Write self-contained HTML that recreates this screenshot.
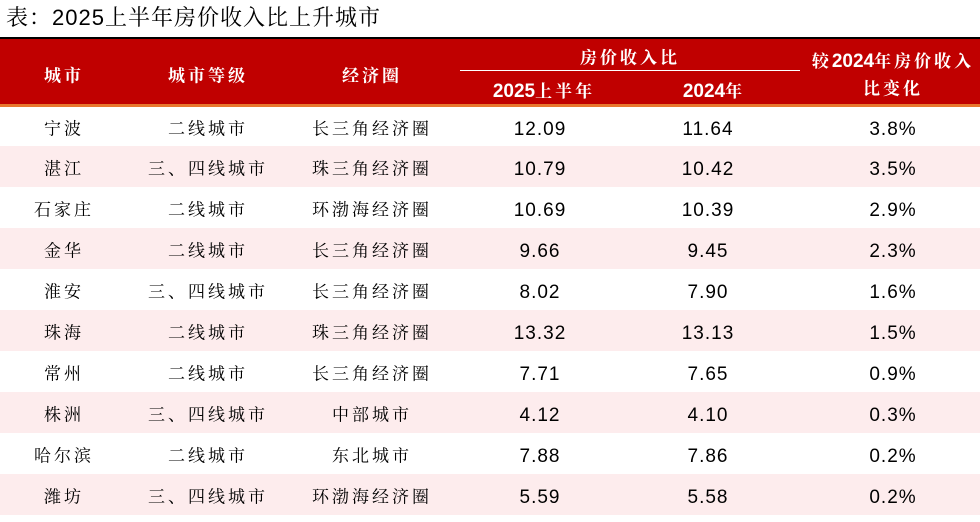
<!DOCTYPE html>
<html><head><meta charset="utf-8"><style>
body{margin:0;width:980px;height:522px;background:#fff;font-family:"Liberation Sans","Noto Serif CJK SC","Noto Sans CJK SC",sans-serif;position:relative;overflow:hidden}
.t{position:absolute;left:6px;top:1px;font-size:22px;color:#000;letter-spacing:1px}
.hl{position:absolute;left:0;top:37px;width:980px;height:2px;background:#000}
.hd{position:absolute;left:0;top:39px;width:980px;height:65px;background:#c00000}
.ol{position:absolute;left:0;top:104px;width:980px;height:3px;background:#e8772e}
.w{position:absolute;color:#fff;font-weight:bold;font-size:17px;letter-spacing:3px;transform:translate(-50%,-50%);white-space:nowrap}
.w b{font-size:19px;letter-spacing:0}
.sub{position:absolute;left:460px;top:70px;width:340px;height:1px;background:#fff}
.r{position:absolute;left:0;width:980px;height:41px}
.c{position:absolute;top:50%;transform:translate(-50%,-50%);font-size:17px;letter-spacing:3px;white-space:nowrap;color:#000}
.n{font-size:19px;letter-spacing:1px;margin-top:3px}
</style></head><body>
<div class="t">表：2025上半年房价收入比上升城市</div>
<div class="hl"></div><div class="hd"></div><div class="ol"></div>
<div class="w" style="left:64px;top:74px">城市</div>
<div class="w" style="left:208px;top:74px">城市等级</div>
<div class="w" style="left:372px;top:74px">经济圈</div>
<div class="w" style="left:630px;top:56px">房价收入比</div>
<div class="sub"></div>
<div class="w" style="left:544px;top:90px"><b>2025</b>上半年</div>
<div class="w" style="left:714px;top:90px"><b>2024</b>年</div>
<div class="w" style="left:893px;top:60px">较<b>2024</b>年房价收入</div>
<div class="w" style="left:893px;top:87px">比变化</div>
<div class="r" style="top:106px"><span class="c" style="left:64px">宁波</span><span class="c" style="left:208px">二线城市</span><span class="c" style="left:372px">长三角经济圈</span><span class="c n" style="left:540px">12.09</span><span class="c n" style="left:708px">11.64</span><span class="c n" style="left:893px">3.8%</span></div>
<div class="r" style="top:146px;background:#fdeced"><span class="c" style="left:64px">湛江</span><span class="c" style="left:208px">三、四线城市</span><span class="c" style="left:372px">珠三角经济圈</span><span class="c n" style="left:540px">10.79</span><span class="c n" style="left:708px">10.42</span><span class="c n" style="left:893px">3.5%</span></div>
<div class="r" style="top:187px"><span class="c" style="left:64px">石家庄</span><span class="c" style="left:208px">二线城市</span><span class="c" style="left:372px">环渤海经济圈</span><span class="c n" style="left:540px">10.69</span><span class="c n" style="left:708px">10.39</span><span class="c n" style="left:893px">2.9%</span></div>
<div class="r" style="top:228px;background:#fdeced"><span class="c" style="left:64px">金华</span><span class="c" style="left:208px">二线城市</span><span class="c" style="left:372px">长三角经济圈</span><span class="c n" style="left:540px">9.66</span><span class="c n" style="left:708px">9.45</span><span class="c n" style="left:893px">2.3%</span></div>
<div class="r" style="top:269px"><span class="c" style="left:64px">淮安</span><span class="c" style="left:208px">三、四线城市</span><span class="c" style="left:372px">长三角经济圈</span><span class="c n" style="left:540px">8.02</span><span class="c n" style="left:708px">7.90</span><span class="c n" style="left:893px">1.6%</span></div>
<div class="r" style="top:310px;background:#fdeced"><span class="c" style="left:64px">珠海</span><span class="c" style="left:208px">二线城市</span><span class="c" style="left:372px">珠三角经济圈</span><span class="c n" style="left:540px">13.32</span><span class="c n" style="left:708px">13.13</span><span class="c n" style="left:893px">1.5%</span></div>
<div class="r" style="top:351px"><span class="c" style="left:64px">常州</span><span class="c" style="left:208px">二线城市</span><span class="c" style="left:372px">长三角经济圈</span><span class="c n" style="left:540px">7.71</span><span class="c n" style="left:708px">7.65</span><span class="c n" style="left:893px">0.9%</span></div>
<div class="r" style="top:392px;background:#fdeced"><span class="c" style="left:64px">株洲</span><span class="c" style="left:208px">三、四线城市</span><span class="c" style="left:372px">中部城市</span><span class="c n" style="left:540px">4.12</span><span class="c n" style="left:708px">4.10</span><span class="c n" style="left:893px">0.3%</span></div>
<div class="r" style="top:433px"><span class="c" style="left:64px">哈尔滨</span><span class="c" style="left:208px">二线城市</span><span class="c" style="left:372px">东北城市</span><span class="c n" style="left:540px">7.88</span><span class="c n" style="left:708px">7.86</span><span class="c n" style="left:893px">0.2%</span></div>
<div class="r" style="top:474px;background:#fdeced"><span class="c" style="left:64px">潍坊</span><span class="c" style="left:208px">三、四线城市</span><span class="c" style="left:372px">环渤海经济圈</span><span class="c n" style="left:540px">5.59</span><span class="c n" style="left:708px">5.58</span><span class="c n" style="left:893px">0.2%</span></div>
</body></html>
